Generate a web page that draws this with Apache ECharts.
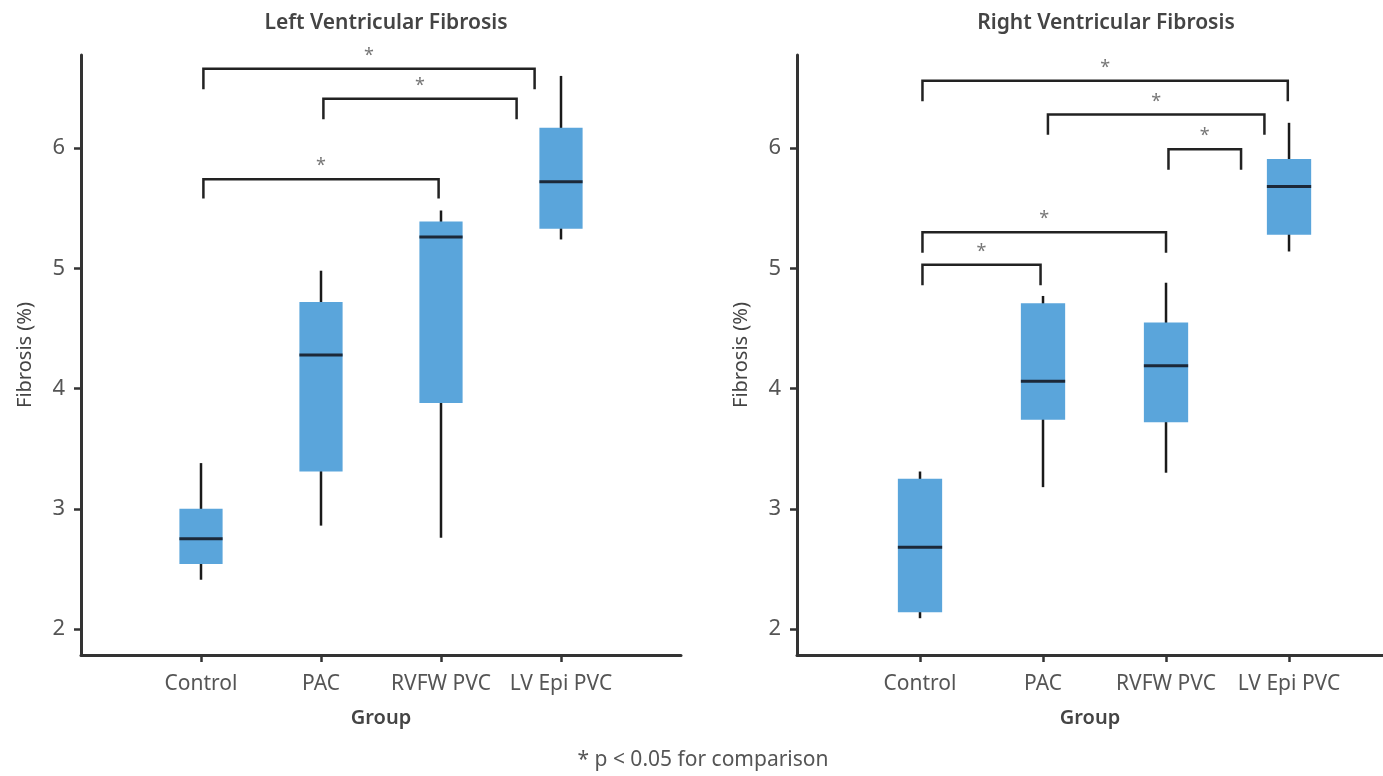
<!DOCTYPE html>
<html>
<head>
<meta charset="utf-8">
<script src="https://cdn.jsdelivr.net/npm/echarts@6/dist/echarts.min.js"></script>
<style>
  html, body { margin: 0; padding: 0; background: #fff; }
  #chart { width: 1383px; height: 776px; }
</style>
</head>
<body>
<div id="chart"></div>
<script>
const groups = ["Control", "PAC", "RVFW PVC", "LV Epi PVC"];
const groupPos = [1, 2, 3, 4];
const yTicks = [2, 3, 4, 5, 6];

// [min, Q1, median, Q3, max]
const lvBoxes = [
  [2.41, 2.54, 2.75, 3.0, 3.38],
  [2.86, 3.31, 4.28, 4.72, 4.98],
  [2.76, 3.88, 5.26, 5.39, 5.48],
  [5.24, 5.33, 5.72, 6.17, 6.6],
];
const rvBoxes = [
  [2.09, 2.14, 2.68, 3.25, 3.31],
  [3.18, 3.74, 4.06, 4.71, 4.77],
  [3.3, 3.72, 4.19, 4.55, 4.88],
  [5.14, 5.28, 5.68, 5.91, 6.21],
];

// significance brackets: [from, to, bar level, foot level]
const lvBrackets = [
  [1.02, 3.78, 6.66, 6.49],
  [2.02, 3.63, 6.41, 6.24],
  [1.02, 2.98, 5.74, 5.58],
];
const rvBrackets = [
  [1.02, 3.99, 6.56, 6.39],
  [2.04, 3.8, 6.28, 6.11],
  [3.02, 3.61, 5.99, 5.82],
  [1.02, 3.0, 5.3, 5.13],
  [1.02, 1.98, 5.03, 4.86],
];

const chart = echarts.init(document.getElementById("chart"));

const font = "Noto Sans";

// 箱线图：须线 + 箱体 + 中位线
const renderBox = (params, api) => {
  const x = api.value(0);
  const lo = api.coord([x, api.value(1)]);
  const q1 = api.coord([x, api.value(2)]);
  const med = api.coord([x, api.value(3)]);
  const q3 = api.coord([x, api.value(4)]);
  const hi = api.coord([x, api.value(5)]);
  const w = api.size([0.36, 0])[0];
  return {
    type: "group",
    children: [
      {
        type: "line",
        shape: { x1: lo[0], y1: lo[1], x2: hi[0], y2: hi[1] },
        style: { stroke: "#1a1a1a", lineWidth: 2.5 },
      },
      {
        type: "rect",
        shape: { x: q3[0] - w / 2, y: q3[1], width: w, height: q1[1] - q3[1] },
        style: { fill: "#5aa5db" },
      },
      {
        type: "line",
        shape: { x1: med[0] - w / 2, y1: med[1], x2: med[0] + w / 2, y2: med[1] },
        style: { stroke: "#1c2838", lineWidth: 3 },
      },
    ],
  };
};

// 显著性括号 + 星号
const renderBracket = (params, api) => {
  const a = api.coord([api.value(0), api.value(3)]);
  const b = api.coord([api.value(0), api.value(2)]);
  const c = api.coord([api.value(1), api.value(2)]);
  const d = api.coord([api.value(1), api.value(3)]);
  return {
    type: "group",
    children: [
      {
        type: "polyline",
        shape: { points: [a, b, c, d] },
        style: { stroke: "#222", lineWidth: 2.5, fill: null },
      },
      {
        type: "text",
        style: {
          text: "*",
          x: (b[0] + c[0]) / 2,
          y: b[1] - 13,
          align: "center",
          verticalAlign: "middle",
          fill: "#777",
          fontSize: 18,
          fontFamily: font,
        },
      },
    ],
  };
};

const xAxisOf = (gridIndex, max) => ({
  gridIndex,
  type: "value",
  min: 0,
  max,
  name: "Group",
  nameLocation: "middle",
  nameGap: 53,
  nameTextStyle: { fontSize: 20, fontWeight: 600, color: "#444", fontFamily: font },
  splitLine: { show: false },
  axisLine: { lineStyle: { color: "#333", width: 3 } },
  axisTick: { customValues: groupPos, length: 7, lineStyle: { color: "#333", width: 2.5 } },
  axisLabel: {
    customValues: groupPos,
    margin: 19,
    fontSize: 21,
    color: "#555",
    fontFamily: font,
    formatter: (v) => groups[v - 1] || "",
  },
});

const yAxisOf = (gridIndex) => ({
  gridIndex,
  type: "value",
  min: 1.784,
  max: 6.774,
  name: "Fibrosis (%)",
  nameLocation: "middle",
  nameGap: 46,
  nameTextStyle: { fontSize: 20, color: "#444", fontFamily: font },
  splitLine: { show: false },
  axisLine: { show: true, lineStyle: { color: "#333", width: 3 } },
  axisTick: { show: true, customValues: yTicks, length: 7, lineStyle: { color: "#333", width: 2.5 } },
  axisLabel: { customValues: yTicks, margin: 16, fontSize: 22, color: "#555", fontFamily: font },
});

const boxData = (boxes) => boxes.map((b, i) => [groupPos[i], ...b]);

const options = {
  animation: false,
  title: [
    {
      text: "Left Ventricular Fibrosis",
      left: 381,
      top: 8,
      textAlign: "center",
      textStyle: { fontSize: 21, fontWeight: 600, color: "#444", fontFamily: font },
    },
    {
      text: "Right Ventricular Fibrosis",
      left: 1101,
      top: 8,
      textAlign: "center",
      textStyle: { fontSize: 21, fontWeight: 600, color: "#444", fontFamily: font },
    },
  ],
  // 右图的 x 轴超出画布，按 123px/单位 截到右边缘
  grid: [
    { left: 81, top: 55, width: 600, height: 600 },
    { left: 797, top: 55, right: 0, height: 600 },
  ],
  xAxis: [xAxisOf(0, 5), xAxisOf(1, 4.764)],
  yAxis: [yAxisOf(0), yAxisOf(1)],
  graphic: [
    {
      type: "text",
      x: 703,
      y: 760,
      style: {
        text: "* p < 0.05 for comparison",
        align: "center",
        verticalAlign: "middle",
        fontSize: 21,
        fill: "#555",
        fontFamily: font,
      },
    },
  ],
  series: [
    { type: "custom", xAxisIndex: 0, yAxisIndex: 0, renderItem: renderBox, data: boxData(lvBoxes), clip: false },
    { type: "custom", xAxisIndex: 1, yAxisIndex: 1, renderItem: renderBox, data: boxData(rvBoxes), clip: false },
    { type: "custom", xAxisIndex: 0, yAxisIndex: 0, renderItem: renderBracket, data: lvBrackets, clip: false },
    { type: "custom", xAxisIndex: 1, yAxisIndex: 1, renderItem: renderBracket, data: rvBrackets, clip: false },
  ],
};

chart.setOption(options);
</script>
</body>
</html>
